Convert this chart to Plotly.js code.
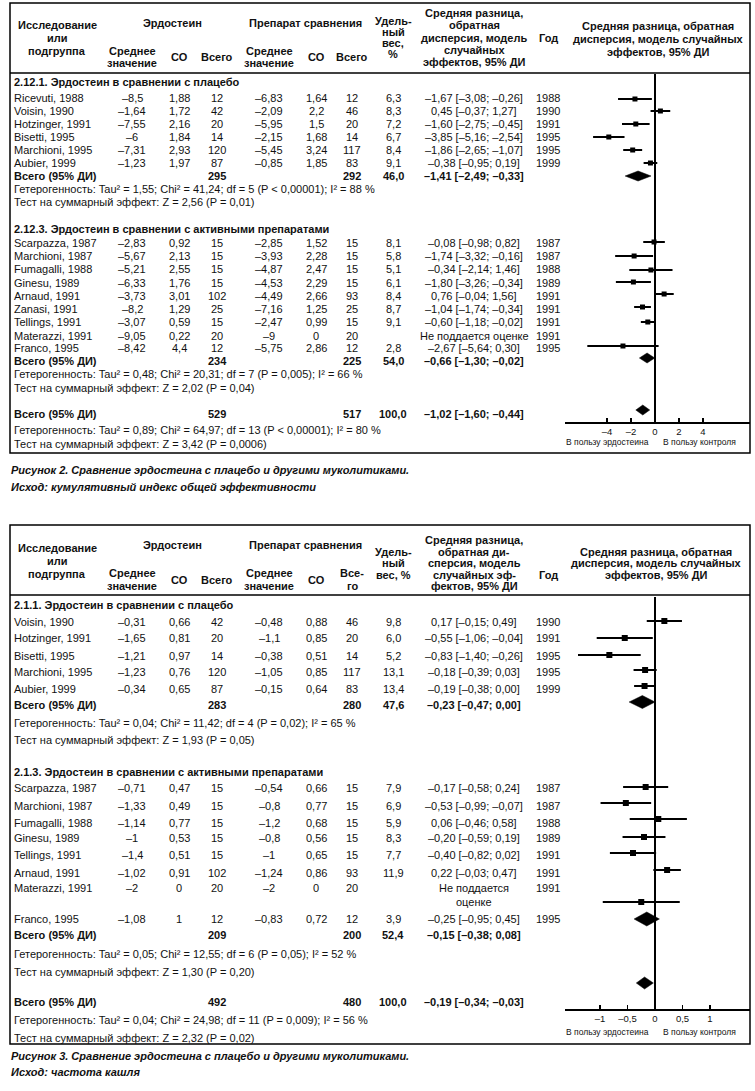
<!DOCTYPE html>
<html><head><meta charset="utf-8">
<script src="https://cdn.plot.ly/plotly-3.0.1.min.js"></script>
<style>html,body{margin:0;padding:0;background:#fff}</style>
</head><body><div id="chart" style="width:755px;height:1091px"></div>
<script>
// ================= DATA: Figure 2 (cumulative efficacy index) =================
const f2aTitle = "2.12.1. Эрдостеин в сравнении с плацебо";
const f2aStudies = ["Ricevuti, 1988","Voisin, 1990","Hotzinger, 1991","Bisetti, 1995","Marchioni, 1995","Aubier, 1999"];
const f2aErdMean = [-8.5,-1.64,-7.55,-6,-7.31,-1.23];
const f2aErdSD   = [1.88,1.72,2.16,1.84,2.93,1.97];
const f2aErdN    = [12,42,20,14,120,87];
const f2aCmpMean = [-6.83,-2.09,-5.95,-2.15,-5.45,-0.85];
const f2aCmpSD   = [1.64,2.2,1.5,1.68,3.24,1.85];
const f2aCmpN    = [12,46,20,14,117,83];
const f2aWeight  = [6.3,8.3,7.2,6.7,8.4,9.1];
const f2aMD      = [-1.67,0.45,-1.60,-3.85,-1.86,-0.38];
const f2aLo      = [-3.08,-0.37,-2.75,-5.16,-2.65,-0.95];
const f2aHi      = [-0.26,1.27,-0.45,-2.54,-1.07,0.19];
const f2aYear    = [1988,1990,1991,1995,1995,1999];
const f2aTotal   = {erdN:295, cmpN:292, weight:46.0, md:-1.41, lo:-2.49, hi:-0.33};
const f2aHet  = "Гетерогенность: Tau² = 1,55; Chi² = 41,24; df = 5 (P < 0,00001); I² = 88 %";
const f2aTest = "Тест на суммарный эффект: Z = 2,56 (P = 0,01)";

const f2bTitle = "2.12.3. Эрдостеин в сравнении с активными препаратами";
const f2bStudies = ["Scarpazza, 1987","Marchioni, 1987","Fumagalli, 1988","Ginesu, 1989","Arnaud, 1991","Zanasi, 1991","Tellings, 1991","Materazzi, 1991","Franco, 1995"];
const f2bErdMean = [-2.83,-5.67,-5.21,-6.33,-3.73,-8.2,-3.07,-9.05,-8.42];
const f2bErdSD   = [0.92,2.13,2.55,1.76,3.01,1.29,0.59,0.22,4.4];
const f2bErdN    = [15,15,15,15,102,25,15,20,12];
const f2bCmpMean = [-2.85,-3.93,-4.87,-4.53,-4.49,-7.16,-2.47,-9,-5.75];
const f2bCmpSD   = [1.52,2.28,2.47,2.29,2.66,1.25,0.99,0,2.86];
const f2bCmpN    = [15,15,15,15,93,25,15,20,12];
const f2bWeight  = [8.1,5.8,5.1,6.1,8.4,8.7,9.1,null,2.8];
const f2bMD      = [-0.08,-1.74,-0.34,-1.80,0.76,-1.04,-0.60,null,-2.67];
const f2bLo      = [-0.98,-3.32,-2.14,-3.26,-0.04,-1.74,-1.18,null,-5.64];
const f2bHi      = [0.82,-0.16,1.46,-0.34,1.56,-0.34,-0.02,null,0.30];
const f2bYear    = [1987,1987,1988,1989,1991,1991,1991,1991,1995];
const f2bTotal   = {erdN:234, cmpN:225, weight:54.0, md:-0.66, lo:-1.30, hi:-0.02};
const f2bHet  = "Гетерогенность: Tau² = 0,48; Chi² = 20,31; df = 7 (P = 0,005); I² = 66 %";
const f2bTest = "Тест на суммарный эффект: Z = 2,02 (P = 0,04)";

const f2Overall = {erdN:529, cmpN:517, weight:100.0, md:-1.02, lo:-1.60, hi:-0.44};
const f2OverallHet  = "Гетерогенность: Tau² = 0,89; Chi² = 64,97; df = 13 (P < 0,00001); I² = 80 %";
const f2OverallTest = "Тест на суммарный эффект: Z = 3,42 (P = 0,0006)";
const f2TickVals = [-4,-2,0,2,4];
const f2TickText = ["–4","–2","0","2","4"];
const f2Caption = ["Рисунок 2. Сравнение эрдостеина с плацебо и другими муколитиками.",
                   "Исход: кумулятивный индекс общей эффективности"];

// ================= DATA: Figure 3 (cough frequency) =================
const f3aTitle = "2.1.1. Эрдостеин в сравнении с плацебо";
const f3aStudies = ["Voisin, 1990","Hotzinger, 1991","Bisetti, 1995","Marchioni, 1995","Aubier, 1999"];
const f3aErdMean = [-0.31,-1.65,-1.21,-1.23,-0.34];
const f3aErdSD   = [0.66,0.81,0.97,0.76,0.65];
const f3aErdN    = [42,20,14,120,87];
const f3aCmpMean = [-0.48,-1.1,-0.38,-1.05,-0.15];
const f3aCmpSD   = [0.88,0.85,0.51,0.85,0.64];
const f3aCmpN    = [46,20,14,117,83];
const f3aWeight  = [9.8,6.0,5.2,13.1,13.4];
const f3aMD      = [0.17,-0.55,-0.83,-0.18,-0.19];
const f3aLo      = [-0.15,-1.06,-1.40,-0.39,-0.38];
const f3aHi      = [0.49,-0.04,-0.26,0.03,0.00];
const f3aYear    = [1990,1991,1995,1995,1999];
const f3aTotal   = {erdN:283, cmpN:280, weight:47.6, md:-0.23, lo:-0.47, hi:0.00};
const f3aHet  = "Гетерогенность: Tau² = 0,04; Chi² = 11,42; df = 4 (P = 0,02); I² = 65 %";
const f3aTest = "Тест на суммарный эффект: Z = 1,93 (P = 0,05)";

const f3bTitle = "2.1.3. Эрдостеин в сравнении с активными препаратами";
const f3bStudies = ["Scarpazza, 1987","Marchioni, 1987","Fumagalli, 1988","Ginesu, 1989","Tellings, 1991","Arnaud, 1991","Materazzi, 1991","Franco, 1995"];
const f3bErdMean = [-0.71,-1.33,-1.14,-1,-1.4,-1.02,-2,-1.08];
const f3bErdSD   = [0.47,0.49,0.77,0.53,0.51,0.91,0,1];
const f3bErdN    = [15,15,15,15,15,102,20,12];
const f3bCmpMean = [-0.54,-0.8,-1.2,-0.8,-1,-1.24,-2,-0.83];
const f3bCmpSD   = [0.66,0.77,0.68,0.56,0.65,0.86,0,0.72];
const f3bCmpN    = [15,15,15,15,15,93,20,12];
const f3bWeight  = [7.9,6.9,5.9,8.3,7.7,11.9,null,3.9];
const f3bMD      = [-0.17,-0.53,0.06,-0.20,-0.40,0.22,null,-0.25];
const f3bLo      = [-0.58,-0.99,-0.46,-0.59,-0.82,-0.03,null,-0.95];
const f3bHi      = [0.24,-0.07,0.58,0.19,0.02,0.47,null,0.45];
const f3bYear    = [1987,1987,1988,1989,1991,1991,1991,1995];
const f3bTotal   = {erdN:209, cmpN:200, weight:52.4, md:-0.15, lo:-0.38, hi:0.08};
const f3bHet  = "Гетерогенность: Tau² = 0,05; Chi² = 12,55; df = 6 (P = 0,05); I² = 52 %";
const f3bTest = "Тест на суммарный эффект: Z = 1,30 (P = 0,20)";

const f3Overall = {erdN:492, cmpN:480, weight:100.0, md:-0.19, lo:-0.34, hi:-0.03};
const f3OverallHet  = "Гетерогенность: Tau² = 0,04; Chi² = 24,98; df = 11 (P = 0,009); I² = 56 %";
const f3OverallTest = "Тест на суммарный эффект: Z = 2,32 (P = 0,02)";
const f3TickVals = [-1,-0.5,0,0.5,1];
const f3TickText = ["–1","–0,5","0","0,5","1"];
const f3Caption = ["Рисунок 3. Сравнение эрдостеина с плацебо и другими муколитиками.",
                   "Исход: частота кашля"];

const notEstimable = "Не поддается оценке";
const favourLeft = "В пользу эрдостеина";
const favourRight = "В пользу контроля";

// ================= LAYOUT (positions in page pixels) =================
const W = 755, H = 1091;
const PX = x => x / W, PY = y => 1 - y / H;
const FONT = "Liberation Sans, Arial, sans-serif";
const INK = "#111";
const COL = {name:13, erdMean:132, erdSD:179, erdN:217, cmpMean:269, cmpSD:316, cmpN:352, weight:393, ci:474, year:548};

function fmt(v, d) {
  if (v === null || v === undefined) return "";
  let s = (d === undefined) ? String(Math.abs(v)) : Math.abs(v).toFixed(d);
  s = s.replace(".", ",");
  return (v < 0 ? "–" : "") + s;
}
function ciText(md, lo, hi) { return fmt(md,2) + " [" + fmt(lo,2) + "; " + fmt(hi,2) + "]"; }

const anns = [];
function txt(x, y, s, o) {
  o = o || {};
  anns.push({xref:"paper", yref:"paper", x:PX(x), y:PY(y), text:s, showarrow:false,
    xanchor:o.anchor || "center", yanchor:"middle", borderpad:0,
    font:{family:FONT, size:o.size || 11, color:INK}});
}
const B = s => "<b>" + s + "</b>";

function header(top, fig) {
  const h = fig.header;
  h.study.forEach((y,i)=>txt(COL.name+44, y, B(["Исследование","или","подгруппа"][i])));
  txt(172, h.grp, B("Эрдостеин"));
  txt(305, h.grp, B("Препарат сравнения"));
  h.mean.forEach((y,i)=>{ txt(COL.erdMean, y, B(["Среднее","значение"][i])); txt(COL.cmpMean, y, B(["Среднее","значение"][i])); });
  txt(COL.erdSD, h.sub, B("СО")); txt(COL.erdN, h.sub, B("Всего")); txt(COL.cmpSD, h.sub, B("СО"));
  if (fig.cmpNLines.length === 1) txt(COL.cmpN, h.sub, B(fig.cmpNLines[0]));
  else fig.cmpNLines.forEach((s,i)=>txt(COL.cmpN, h.mean[i], B(s)));
  fig.weightLines.forEach((s,i)=>txt(COL.weight, h.weight[i], B(s)));
  fig.ciLines.forEach((s,i)=>txt(COL.ci, h.ci[i], B(s)));
  txt(COL.year, h.year, B("Год"));
  fig.rightLines.forEach((s,i)=>txt(fig.rightX, h.right[i], B(s)));
}

function studyRows(g, ys, naSplit) {
  g.studies.forEach((s,i)=>{
    const y = ys[i];
    txt(COL.name, y, s, {anchor:"left"});
    txt(COL.erdMean, y, fmt(g.erdMean[i]));
    txt(COL.erdSD, y, fmt(g.erdSD[i]));
    txt(COL.erdN, y, String(g.erdN[i]));
    txt(COL.cmpMean, y, fmt(g.cmpMean[i]));
    txt(COL.cmpSD, y, fmt(g.cmpSD[i]));
    txt(COL.cmpN, y, String(g.cmpN[i]));
    if (g.md[i] === null) {
      if (naSplit) { txt(COL.ci, y, "Не поддается"); txt(COL.ci, y + naSplit, "оценке"); }
      else txt(COL.ci, y, notEstimable);
    } else {
      txt(COL.weight, y, fmt(g.weight[i],1));
      txt(COL.ci, y, ciText(g.md[i], g.lo[i], g.hi[i]));
    }
    txt(COL.year, y, String(g.year[i]));
  });
}
function totalRow(t, y) {
  txt(COL.name, y, B("Всего (95% ДИ)"), {anchor:"left"});
  txt(COL.erdN, y, B(String(t.erdN)));
  txt(COL.cmpN, y, B(String(t.cmpN)));
  txt(COL.weight, y, B(fmt(t.weight,1)));
  txt(COL.ci, y, B(ciText(t.md, t.lo, t.hi)));
}

const traces = [];
function forest(g, ys, xa, ya, msize) {
  const x=[], y=[], ep=[], em=[];
  g.md.forEach((m,i)=>{ if (m===null) return; x.push(m); y.push(ys[i]); ep.push(g.hi[i]-m); em.push(m-g.lo[i]); });
  traces.push({type:"scatter", mode:"markers", x:x, y:y, xaxis:xa, yaxis:ya,
    marker:{symbol:"square", size:msize, color:"#000"},
    error_x:{type:"data", symmetric:false, array:ep, arrayminus:em, thickness:2, width:0, color:"#000"},
    hoverinfo:"skip"});
}
function diamond(t, yc, h, xa, ya) {
  traces.push({type:"scatter", mode:"lines", fill:"toself", fillcolor:"#000",
    x:[t.lo, t.md, t.hi, t.md, t.lo], y:[yc, yc-h, yc, yc+h, yc], xaxis:xa, yaxis:ya,
    line:{color:"#000", width:0.5}, hoverinfo:"skip"});
}

const grp = (p) => ({studies:p[0], erdMean:p[1], erdSD:p[2], erdN:p[3], cmpMean:p[4], cmpSD:p[5], cmpN:p[6], weight:p[7], md:p[8], lo:p[9], hi:p[10], year:p[11]});
const g2a = grp([f2aStudies,f2aErdMean,f2aErdSD,f2aErdN,f2aCmpMean,f2aCmpSD,f2aCmpN,f2aWeight,f2aMD,f2aLo,f2aHi,f2aYear]);
const g2b = grp([f2bStudies,f2bErdMean,f2bErdSD,f2bErdN,f2bCmpMean,f2bCmpSD,f2bCmpN,f2bWeight,f2bMD,f2bLo,f2bHi,f2bYear]);
const g3a = grp([f3aStudies,f3aErdMean,f3aErdSD,f3aErdN,f3aCmpMean,f3aCmpSD,f3aCmpN,f3aWeight,f3aMD,f3aLo,f3aHi,f3aYear]);
const g3b = grp([f3bStudies,f3bErdMean,f3bErdSD,f3bErdN,f3bCmpMean,f3bCmpSD,f3bCmpN,f3bWeight,f3bMD,f3bLo,f3bHi,f3bYear]);

// ---------- Figure 2 ----------
header(3, {
  header:{study:[25,38,51], grp:23, mean:[51,63], sub:57, weight:[21,32,43,54], ci:[13,25,38,50,62], year:38, right:[26,39,52]},
  cmpNLines:["Всего"], weightLines:["Удель-","ный","вес,","%"],
  ciLines:["Средняя разница,","обратная","дисперсия, модель","случайных","эффектов, 95% ДИ"],
  rightLines:["Средняя разница, обратная","дисперсия, модель случайных","эффектов, 95% ДИ"], rightX:658});
txt(COL.name, 82, B(f2aTitle), {anchor:"left"});
studyRows(g2a, [98,111,124,137,150,163]);
totalRow(f2aTotal, 176);
txt(COL.name, 189, f2aHet, {anchor:"left"});
txt(COL.name, 202, f2aTest, {anchor:"left"});
txt(COL.name, 229, B(f2bTitle), {anchor:"left"});
studyRows(g2b, [243,256,269,283,296,309,322,336,348]);
totalRow(f2bTotal, 361);
txt(COL.name, 374, f2bHet, {anchor:"left"});
txt(COL.name, 388, f2bTest, {anchor:"left"});
totalRow(f2Overall, 414);
txt(COL.name, 430, f2OverallHet, {anchor:"left"});
txt(COL.name, 444, f2OverallTest, {anchor:"left"});
txt(650, 442, favourLeft, {anchor:"right", size:8.5});
txt(662, 442, favourRight, {anchor:"left", size:8.5});
txt(10, 470, "<b><i>" + f2Caption[0] + "</i></b>", {anchor:"left"});
txt(10, 487, "<b><i>" + f2Caption[1] + "</i></b>", {anchor:"left"});

forest(g2a, [99,111,124,137,150,163], "x", "y", 5);
diamond(f2aTotal, 176, 5, "x", "y");
forest(g2b, [242,256,270,282,294,307,322,null,346], "x", "y", 5);
diamond(f2bTotal, 358, 5, "x", "y");
diamond(f2Overall, 410, 5, "x", "y");

// ---------- Figure 3 ----------
header(525, {
  header:{study:[548,561,574], grp:545, mean:[573,586], sub:580, weight:[552,563,575], ci:[540,552,563,575,586], year:575, right:[552,563,575]},
  cmpNLines:["Все-","го"], weightLines:["Удель-","ный","вес, %"],
  ciLines:["Средняя разница,","обратная ди-","сперсия, модель","случайных эф-","фектов, 95% ДИ"],
  rightLines:["Средняя разница, обратная","дисперсия, модель случайных","эффектов, 95% ДИ"], rightX:656});
txt(COL.name, 605, B(f3aTitle), {anchor:"left"});
studyRows(g3a, [622,638,656,672,689]);
totalRow(f3aTotal, 705);
txt(COL.name, 723, f3aHet, {anchor:"left"});
txt(COL.name, 740, f3aTest, {anchor:"left"});
txt(COL.name, 772, B(f3bTitle), {anchor:"left"});
studyRows(g3b, [788,806,823,838,855,873,888,919], 14);
totalRow(f3bTotal, 935);
txt(COL.name, 954, f3bHet, {anchor:"left"});
txt(COL.name, 972, f3bTest, {anchor:"left"});
totalRow(f3Overall, 1002);
txt(COL.name, 1020, f3OverallHet, {anchor:"left"});
txt(COL.name, 1038, f3OverallTest, {anchor:"left"});
txt(650, 1032, favourLeft, {anchor:"right", size:8.5});
txt(662, 1032, favourRight, {anchor:"left", size:8.5});
txt(10, 1056, "<b><i>" + f3Caption[0] + "</i></b>", {anchor:"left"});
txt(10, 1072, "<b><i>" + f3Caption[1] + "</i></b>", {anchor:"left"});

forest(g3a, [621,638,655,670,686], "x2", "y2", 6);
diamond(f3aTotal, 702, 6.5, "x2", "y2");
forest(g3b, [787,803,819,837,853,870,null,902], "x2", "y2", 6);
diamond(f3bTotal, 919, 7, "x2", "y2");
diamond(f3Overall, 983, 6, "x2", "y2");

// ---------- frames ----------
const shapes = [];
function rect(x0,y0,x1,y1){ shapes.push({type:"rect", xref:"paper", yref:"paper", x0:PX(x0), x1:PX(x1), y0:PY(y1), y1:PY(y0), line:{color:"#000", width:1.5}}); }
function hline(x0,x1,y){ shapes.push({type:"line", xref:"paper", yref:"paper", x0:PX(x0), x1:PX(x1), y0:PY(y), y1:PY(y), line:{color:"#000", width:1.5}}); }
rect(10,3,750,453); hline(10,750,73);
rect(10,525,750,1044); hline(10,750,595);

function xAxis(dom, range, anchor, tv, tt) {
  return {domain:dom, range:range, anchor:anchor, showgrid:false, zeroline:true, zerolinecolor:"#000", zerolinewidth:2,
    showline:true, linecolor:"#000", linewidth:2, ticks:"inside", ticklen:4, tickwidth:1.5, tickcolor:"#000",
    tickvals:tv, ticktext:tt, tickfont:{family:FONT, size:9.5, color:INK}, fixedrange:true};
}
function yAxis(dom, range) {
  return {domain:dom, range:range, visible:false, showgrid:false, zeroline:false, fixedrange:true};
}

const layout = {
  width:W, height:H, margin:{l:0,r:0,t:0,b:0}, showlegend:false,
  paper_bgcolor:"#fff", plot_bgcolor:"rgba(0,0,0,0)",
  xaxis: xAxis([PX(565), PX(750)], [-90/12, 95/12], "y", f2TickVals, f2TickText),
  yaxis: yAxis([PY(422), PY(74)], [422, 74]),
  xaxis2: xAxis([PX(565), PX(750)], [-90/55, 95/55], "y2", f3TickVals, f3TickText),
  yaxis2: yAxis([PY(1009), PY(597)], [1009, 597]),
  annotations: anns, shapes: shapes
};
Plotly.newPlot("chart", traces, layout, {displayModeBar:false, staticPlot:true});
</script></body></html>
